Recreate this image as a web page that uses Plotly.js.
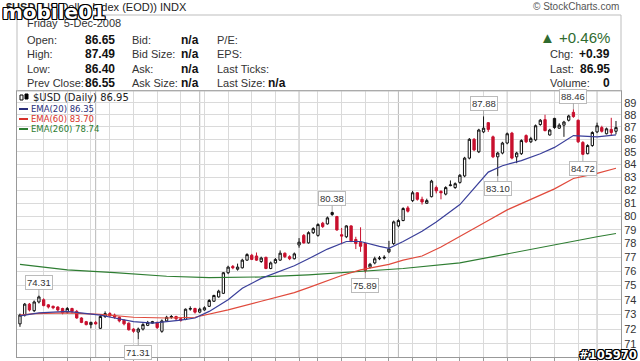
<!DOCTYPE html>
<html><head><meta charset="utf-8">
<script src="https://cdn.plot.ly/plotly-3.0.1.min.js"></script>
<style>html,body{margin:0;padding:0;background:#fff;overflow:hidden}#chart{width:640px;height:361px}</style>
</head><body><div id="chart"></div>
<script>
// ---- trading dates (categories) ----
const tradingDays = [
  ['2008-06', [9,10,11,12,13,16,17,18,19,20,23,24,25,26,27,30]],
  ['2008-07', [1,2,3,7,8,9,10,11,14,15,16,17,18,21,22,23,24,25,28,29,30,31]],
  ['2008-08', [1,4,5,6,7,8,11,12,13,14,15,18,19,20,21,22,25,26,27,28,29]],
  ['2008-09', [2,3,4,5,8,9,10,11,12,15,16,17,18,19,22,23,24,25,26,29,30]],
  ['2008-10', [1,2,3,6,7,8,9,10,13,14,15,16,17,20,21,22,23,24,27,28,29,30,31]],
  ['2008-11', [3,4,5,6,7,10,11,12,13,14,17,18,19,20,21,24,25,26,28]],
  ['2008-12', [1,2,3,4,5]]
];
// ---- OHLC ----
const open = [72.35,72.95,73.70,73.25,73.85,74.00,73.65,73.55,73.50,73.40,73.15,73.40,73.20,72.75,72.50,72.30,72.45,72.05,72.85,73.05,
72.95,72.80,72.60,72.40,72.00,71.80,72.00,72.25,72.40,72.45,71.85,72.55,72.80,72.85,72.70,72.65,73.35,73.40,73.15,73.30,
73.55,73.90,74.20,74.45,75.90,76.35,76.15,76.25,76.80,77.15,77.10,76.70,77.00,76.20,76.60,76.80,77.30,77.05,76.90,77.90,
78.60,78.05,78.80,78.60,79.50,79.45,80.15,80.00,78.65,78.50,79.30,78.30,78.10,78.00,76.30,76.60,76.90,76.95,77.40,78.00,
79.30,79.70,80.65,81.20,81.80,81.30,81.00,81.50,82.20,81.90,81.70,82.35,82.20,82.60,83.10,84.50,86.00,85.00,86.60,87.35,
86.20,84.60,84.90,85.70,86.50,84.60,84.85,86.30,85.80,85.95,87.20,87.60,86.35,87.70,86.90,87.15,87.55,88.20,87.55,85.75,
84.85,85.50,86.60,86.95,86.45,86.80,86.65];
const high = [73.05,73.78,73.78,73.95,74.31,74.10,73.70,73.60,73.55,73.45,73.50,73.45,73.30,72.80,72.55,72.50,72.55,72.95,73.20,73.15,
73.05,72.85,72.65,72.45,72.05,72.10,72.40,72.55,72.55,72.50,72.65,72.90,72.95,72.90,72.75,73.40,73.55,73.45,73.45,73.55,
74.05,74.35,74.70,75.95,76.40,76.45,76.55,76.90,77.30,77.25,77.35,77.05,77.05,76.70,76.95,77.50,77.35,77.15,77.35,78.40,
78.70,78.90,79.20,79.50,79.60,80.00,80.38,80.05,79.15,79.35,79.35,78.50,79.20,78.05,76.60,77.05,77.10,77.15,78.20,79.70,
79.80,80.70,80.80,81.95,81.85,81.50,81.35,82.80,82.35,82.00,82.30,82.75,82.60,83.25,84.60,86.10,86.10,86.85,87.88,87.40,
86.30,85.00,85.80,86.55,86.60,85.00,86.00,86.40,86.20,87.20,87.65,88.00,86.85,87.75,87.30,87.50,88.00,88.46,87.60,85.85,
85.60,86.65,87.35,87.10,86.95,87.75,87.49];
const low = [72.15,72.85,73.20,73.15,73.75,73.55,73.40,73.35,73.20,73.00,73.05,73.05,72.70,72.40,72.25,72.05,72.30,72.00,72.75,72.80,
72.70,72.45,72.25,71.90,71.75,71.31,71.90,72.20,72.35,72.00,71.75,72.50,72.70,72.60,72.50,72.60,73.25,73.05,73.10,73.25,
73.50,73.85,74.15,74.40,75.80,76.15,76.05,76.20,76.75,76.80,76.75,76.60,76.15,76.15,76.55,76.75,76.95,76.80,76.85,77.70,
78.00,78.00,78.70,78.50,79.15,79.40,80.05,78.95,77.95,78.40,78.10,77.60,77.40,75.89,76.20,76.50,76.80,76.85,77.30,77.90,
79.20,79.65,80.30,81.10,81.20,80.90,80.95,81.45,81.75,81.30,81.60,82.30,82.10,82.50,83.00,84.40,85.05,84.90,86.50,86.60,
84.50,83.10,84.80,85.60,84.40,84.10,84.75,85.70,85.70,85.85,87.10,86.65,86.30,86.85,86.85,86.20,87.45,87.75,85.70,84.72,
84.80,85.40,86.50,86.55,86.40,86.30,86.40];
const close = [72.95,73.70,73.30,73.85,74.20,73.60,73.50,73.45,73.30,73.10,73.40,73.20,72.75,72.45,72.30,72.45,72.35,72.85,73.05,72.90,
72.80,72.55,72.35,71.95,71.85,72.00,72.30,72.45,72.50,72.10,72.55,72.80,72.85,72.70,72.60,73.35,73.40,73.15,73.35,73.45,
73.95,74.30,74.60,75.90,76.30,76.25,76.30,76.80,77.20,76.85,76.80,76.95,76.20,76.60,76.85,77.30,77.05,76.90,77.25,78.10,
78.05,78.80,79.10,79.40,79.25,79.90,80.30,79.00,78.55,79.30,78.20,78.00,77.80,76.05,76.50,76.90,76.95,77.00,77.60,79.60,
79.70,80.60,80.40,81.80,81.30,81.10,81.20,82.70,81.95,81.80,82.20,82.40,82.50,83.15,84.50,86.00,85.15,86.75,86.90,86.80,
84.60,84.90,85.70,86.45,84.50,84.90,85.90,85.80,86.05,87.10,87.55,86.70,86.75,86.95,87.15,87.40,87.90,87.85,85.80,84.80,
85.50,86.55,87.10,86.65,86.85,86.55,86.95];
// ---- moving averages (read at sample days) ----
const ema20Day = [0,4,10,17,20,24,28,30,34,37,40,44,47,51,54,58,61,65,69,72,76,78,81,85,88,93,99,102,106,110,113,117,119,122,126];
const ema20Val = [72.9,73.1,73.2,72.95,72.75,72.5,72.4,72.45,72.6,72.75,73.2,74.0,74.8,75.5,75.9,76.4,76.9,77.6,78.15,78.15,77.8,77.65,78.15,78.9,79.6,80.9,83.4,83.9,84.3,84.85,85.35,86.3,86.25,86.2,86.35];
const ema60Day = [0,3,10,17,24,31,37,44,51,58,61,68,72,78,81,85,89,93,99,103,108,113,117,122,126];
const ema60Val = [72.95,73.05,73.1,73.0,72.8,72.75,72.8,73.3,73.9,74.5,74.85,75.7,76.1,76.5,76.8,77.1,77.75,78.5,79.7,80.5,81.3,82.1,82.9,83.3,83.7];
const ema260Day = [0,10,20,31,40,51,61,71,81,93,102,113,122,126];
const ema260Val = [76.5,76.1,75.9,75.65,75.55,75.6,75.75,75.95,76.2,76.6,77.2,77.9,78.5,78.74];
// ---- labelled swing points ----
const peakDay = [4,66,98,117];
const peakVal = [74.31,80.38,87.88,88.46];
const troughDay = [25,73,101,119];
const troughVal = [71.31,75.89,83.10,84.72];
const yTicks = [71,72,73,74,75,76,77,78,79,80,81,82,83,84,85,86,87,88,89];

// ---- build ----
const dates = [];
tradingDays.forEach(([ym, days]) => days.forEach(d => dates.push(ym + '-' + String(d).padStart(2,'0'))));
const dayIdx = dates.map((_, i) => i);
function mondayKey(s){const d=new Date(s+'T00:00:00Z');return d.getTime()/86400000-((d.getUTCDay()+6)%7);}
const weekStarts=[], monthStarts=[];
for(let i=1;i<dates.length;i++){
  if(mondayKey(dates[i])!==mondayKey(dates[i-1])) weekStarts.push(i);
  if(dates[i].slice(0,7)!==dates[i-1].slice(0,7)) monthStarts.push(i);
}
const RED='#c8102e', BLK='#111111';
const gK={x:[],open:[],high:[],low:[],close:[]}, gR={x:[],open:[],high:[],low:[],close:[]};
dayIdx.forEach(i=>{
  const g=(i===0||close[i]>=close[i-1])?gK:gR;
  g.x.push(i);g.open.push(open[i]);g.high.push(high[i]);g.low.push(low[i]);g.close.push(close[i]);
});
const traces=[
 {type:'scatter',mode:'lines',x:ema260Day,y:ema260Val,line:{color:'#2e7d32',width:1.2},hoverinfo:'skip'},
 {type:'scatter',mode:'lines',x:ema60Day,y:ema60Val,line:{color:'#e04a3c',width:1.2},hoverinfo:'skip'},
 {type:'scatter',mode:'lines',x:ema20Day,y:ema20Val,line:{color:'#3a3f9a',width:1.2},hoverinfo:'skip'},
 Object.assign({type:'candlestick',increasing:{fillcolor:'#ffffff',line:{color:BLK,width:1}},decreasing:{fillcolor:BLK,line:{color:BLK,width:1}},hoverinfo:'skip'},gK),
 Object.assign({type:'candlestick',increasing:{fillcolor:'#ffffff',line:{color:RED,width:1}},decreasing:{fillcolor:RED,line:{color:RED,width:1}},hoverinfo:'skip'},gR)
];

// pixel -> paper helpers (positions only)
const PL=17,PR=621,PT=91,PB=357;
const px=x=>(x-PL)/(PR-PL), py=y=>(PB-y)/(PB-PT);
const FONT='Liberation Sans, Arial, sans-serif';
const ann=[];
function txt(t,x,y,opt){ann.push(Object.assign({text:t,xref:'paper',yref:'paper',x:px(x),y:py(y),xanchor:'left',yanchor:'middle',showarrow:false,font:{family:FONT,size:11,color:'#333'}},opt||{}));}
txt('<b>$USD</b> (US Dollar Index (EOD)) INDX',4,7,{font:{family:FONT,size:11,color:'#222'}});
txt('© StockCharts.com',621,7,{xanchor:'right',font:{family:FONT,size:10,color:'#555'}});
txt('Friday  5-Dec-2008',25,23);
const rowsY=[39.5,54,68.5,83];
[['Open:','86.65','Bid:','n/a','P/E:',''],['High:','87.49','Bid Size:','n/a','EPS:',''],['Low:','86.40','Ask:','n/a','Last Ticks:',''],['Prev Close:','86.55','Ask Size:','n/a','Last Size:','n/a']].forEach((r,k)=>{
  const y=rowsY[k];
  txt(r[0],25,y); txt('<b>'+r[1]+'</b>',83,y,{font:{family:FONT,size:12,color:'#111'}});
  txt(r[2],130,y); txt('<b>'+r[3]+'</b>',179,y,{font:{family:FONT,size:12,color:'#111'}});
  txt(r[4],215,y); if(r[5]) txt('<b>'+r[5]+'</b>',266,y,{font:{family:FONT,size:12,color:'#111'}});
});
txt('▲ +0.46%',612,38,{xanchor:'right',font:{family:FONT,size:15,color:'#2f6b2f'}});
[['Chg:','+0.39'],['Last:','86.95'],['Volume:','0']].forEach((r,k)=>{
  const y=[54,68.5,83][k];
  txt(r[0],548,y); txt('<b>'+r[1]+'</b>',612,y,{xanchor:'right',font:{family:FONT,size:12,color:'#111'}});
});
// chart legend
txt('$USD (Daily) 86.95',31,98,{font:{family:'DejaVu Sans, sans-serif',size:10,color:'#222'}});
txt('EMA(20) 86.35',29,109,{font:{family:'DejaVu Sans, sans-serif',size:8.5,color:'#2a2f7a'}});
txt('EMA(60) 83.70',29,119,{font:{family:'DejaVu Sans, sans-serif',size:8.5,color:'#d8322a'}});
txt('EMA(260) 78.74',29,129,{font:{family:'DejaVu Sans, sans-serif',size:8.5,color:'#2e7d32'}});
// watermarks
const outline='1px 0 0 #000, -1px 0 0 #000, 0 1px 0 #000, 0 -1px 0 #000, 1px 1px 0 #000, -1px -1px 0 #000, 1px -1px 0 #000, -1px 1px 0 #000';
txt('<b>mobile01</b>',0,12,{font:{family:'DejaVu Sans, sans-serif',size:20,color:'#ffffff',shadow:outline}});
txt('<b>#105970</b>',639,354.5,{xanchor:'right',font:{family:'DejaVu Sans, sans-serif',size:11.5,color:'#ffffff',shadow:outline}});
// swing labels
const lab={showarrow:true,arrowhead:0,arrowwidth:1,arrowcolor:'#aaa',ax:0,bgcolor:'#fff',bordercolor:'#bbb',borderwidth:1,borderpad:1,font:{family:FONT,size:9.5,color:'#333'}};
peakDay.forEach((d,k)=>ann.push(Object.assign({},lab,{x:d,y:Math.log10(peakVal[k]),xref:'x',yref:'y',text:peakVal[k].toFixed(2),ay:-13})));
troughDay.forEach((d,k)=>ann.push(Object.assign({},lab,{x:d,y:Math.log10(troughVal[k]),xref:'x',yref:'y',text:troughVal[k].toFixed(2),ay:13})));

const shapes=[];
// header box
shapes.push({type:'rect',xref:'paper',yref:'paper',x0:px(17),x1:px(621),y0:py(91),y1:py(15),line:{color:'#bdbdbd',width:1},fillcolor:'rgba(0,0,0,0)'});
// month separator lines
monthStarts.forEach(i=>shapes.push({type:'line',xref:'x',yref:'paper',x0:i,x1:i,y0:0,y1:1,line:{color:'#b8b8b8',width:1},layer:'below'}));
// legend swatches
[['#2a2f7a',109],['#d8322a',119],['#2e7d32',129]].forEach(([c,y])=>shapes.push({type:'line',xref:'paper',yref:'paper',x0:px(19),x1:px(28),y0:py(y),y1:py(y),line:{color:c,width:2}}));
shapes.push({type:'rect',xref:'paper',yref:'paper',x0:px(20),x1:px(23),y0:py(100),y1:py(95),line:{color:'#000',width:1},fillcolor:'#fff'});
shapes.push({type:'rect',xref:'paper',yref:'paper',x0:px(25),x1:px(28),y0:py(99),y1:py(94),line:{color:'#000',width:1},fillcolor:'#000'});

const layout={
  width:640,height:361,margin:{l:PL,r:640-PR,t:PT,b:361-PB},
  paper_bgcolor:'#fff',plot_bgcolor:'#fff',showlegend:false,hovermode:false,
  xaxis:{type:'linear',range:[-0.63,127.06],tickvals:weekStarts,showticklabels:false,ticks:'outside',ticklen:4,tickcolor:'#999',
         showgrid:true,gridcolor:'#dadada',gridwidth:1,zeroline:false,showline:true,linecolor:'#999',mirror:true,rangeslider:{visible:false},fixedrange:true},
  yaxis:{type:'log',side:'right',range:[Math.log10(70.14),Math.log10(89.98)],tickvals:yTicks,ticktext:yTicks.map(String),
         tickfont:{family:FONT,size:11,color:'#333'},ticks:'',showgrid:true,gridcolor:'#dadada',gridwidth:1,zeroline:false,
         showline:true,linecolor:'#999',mirror:true,fixedrange:true},
  annotations:ann,shapes:shapes
};
Plotly.newPlot('chart',traces,layout,{displayModeBar:false,staticPlot:true});
</script></body></html>
